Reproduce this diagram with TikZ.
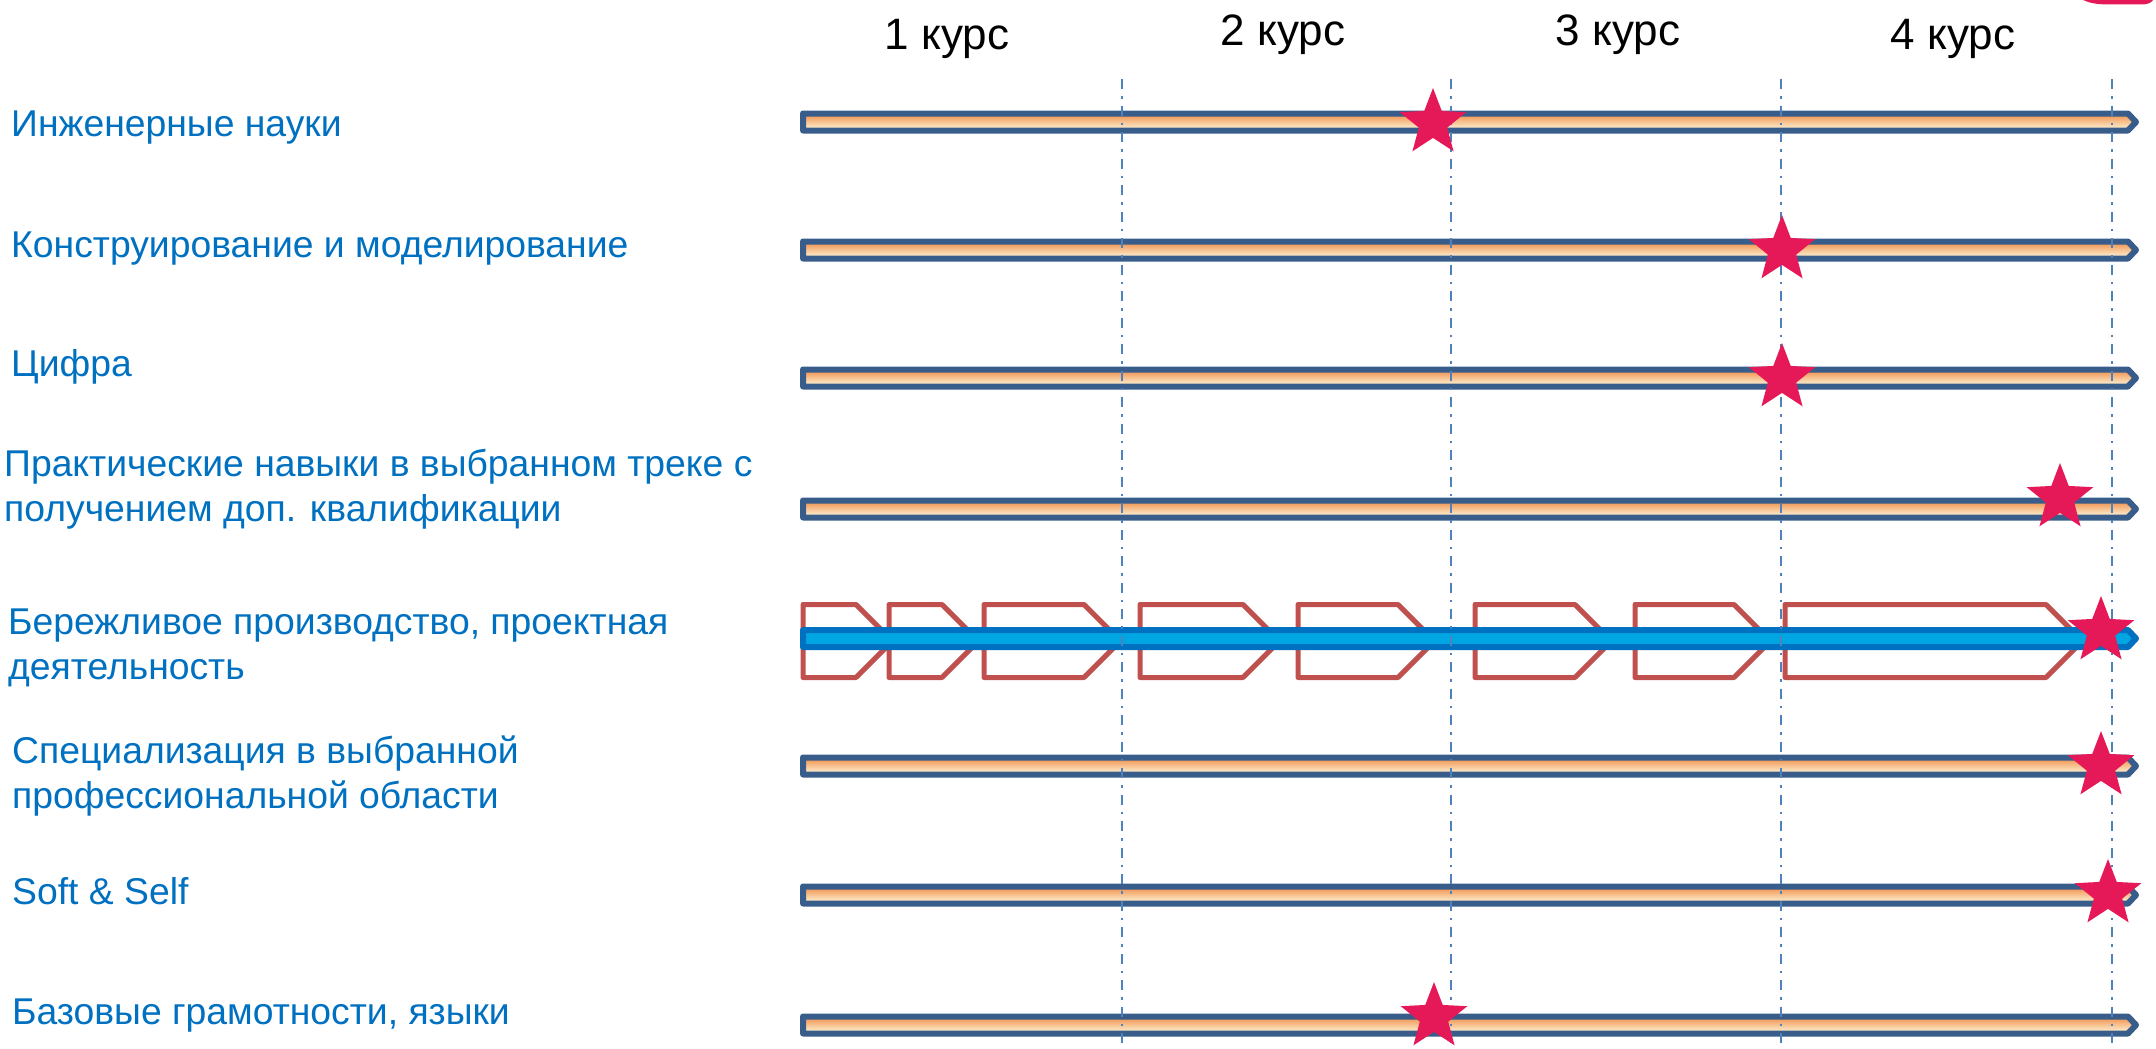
\documentclass[tikz,border=0pt]{standalone}
\usepackage{fontspec}
\setmainfont{Liberation Sans}
\usetikzlibrary{shapes.geometric}

\definecolor{labblue}{RGB}{0,112,192}
\definecolor{barline}{RGB}{56,93,138}
\definecolor{bartop}{RGB}{240,140,70}
\definecolor{barmid}{RGB}{254,226,178}
\definecolor{barbot}{RGB}{255,252,226}
\definecolor{leanline}{RGB}{0,112,192}
\definecolor{leanfill}{RGB}{0,166,226}
\definecolor{chevred}{RGB}{192,80,77}
\definecolor{gridblue}{RGB}{79,129,189}
\definecolor{starred}{RGB}{229,25,88}

\tikzset{
  lab/.style={anchor=base west, inner sep=0pt, text=labblue,
    font=\fontsize{37.3}{45}\selectfont},
  yearlab/.style={anchor=base, inner sep=0pt, text=black,
    font=\fontsize{44}{52}\selectfont},
  trackbar/.style={draw=barline, line width=6pt, line join=round,
    top color=bartop, middle color=barmid, bottom color=barbot},
  leanbar/.style={draw=leanline, line width=6pt, line join=round, fill=leanfill},
  chevron/.style={draw=chevred, line width=5pt, line join=round},
  yearline/.style={draw=gridblue, line width=2.3pt,
    dash pattern=on 10pt off 7pt on 2.5pt off 7pt},
  starmark/.style={star, star points=5, star point ratio=2.35,
    minimum size=70pt, inner sep=0pt, fill=starred, draw=none},
}

\begin{document}
\begin{tikzpicture}[x=1pt,y=-1pt]
\useasboundingbox (0,0) rectangle (2156,1049);

% corner decoration at the top edge
\fill[starred] (2083,0) .. controls (2092,4) and (2100,4.5) .. (2112,4.5)
  -- (2140,4.5) .. controls (2148,4.5) and (2151,3) .. (2153,0) -- cycle;

% year headings
\node[yearlab] (y1) at (947,50) {1 курс};
\node[yearlab] (y2) at (1283,46) {2 курс};
\node[yearlab] (y3) at (1618,46) {3 курс};
\node[yearlab] (y4) at (1953,50) {4 курс};

% track names
\node[lab] (l1) at (11,136) {Инженерные науки};
\node[lab] (l2) at (11,257) {Конструирование и моделирование};
\node[lab] (l3) at (11,376) {Цифра};
\node[lab] (l4) at (4,476) {\vtop{\hbox{Практические навыки в выбранном треке с}\hbox{получением доп. квалификации}}};
\node[lab] (l5) at (8,634) {\vtop{\hbox{Бережливое производство, проектная}\hbox{деятельность}}};
\node[lab] (l6) at (12,763) {\vtop{\hbox{Специализация в выбранной}\hbox{профессиональной области}}};
\node[lab] (l7) at (12,904) {Soft \& Self};
\node[lab] (l8) at (12,1024) {Базовые грамотности, языки};

% project stages along the lean-production track
\foreach \lx/\cx in {803/856, 889/942, 984/1084, 1140/1243, 1298/1398,
                     1475/1575, 1635/1734, 1785/2046} {
  \draw[chevron] (\lx,604.5) -- (\cx,604.5) -- (\cx+36.5,641)
    -- (\cx,677.5) -- (\lx,677.5) -- cycle;
}

% timeline bars
\foreach \yy in {122,250,378,509,766,895,1025} {
  \path[trackbar] (803,\yy-8.5) -- (2128,\yy-8.5) -- (2136,\yy)
    -- (2128,\yy+8.5) -- (803,\yy+8.5) -- cycle;
}
\path[leanbar] (803,638.5-8.5) -- (2128,638.5-8.5) -- (2136,638.5)
  -- (2128,638.5+8.5) -- (803,638.5+8.5) -- cycle;

% year boundaries
\foreach \gx in {1122,1451,1781,2112} {
  \draw[yearline] (\gx,79) -- (\gx,1049);
}

% milestones
\node[starmark] (s1) at (1433,123) {};
\node[starmark] (s2) at (1782,250) {};
\node[starmark] (s3) at (1782,378) {};
\node[starmark] (s4) at (2060,498) {};
\node[starmark] (s5) at (2101,631) {};
\node[starmark] (s6) at (2101,766) {};
\node[starmark] (s7) at (2108,894) {};
\node[starmark] (s8) at (1434,1017) {};
\end{tikzpicture}
\end{document}
